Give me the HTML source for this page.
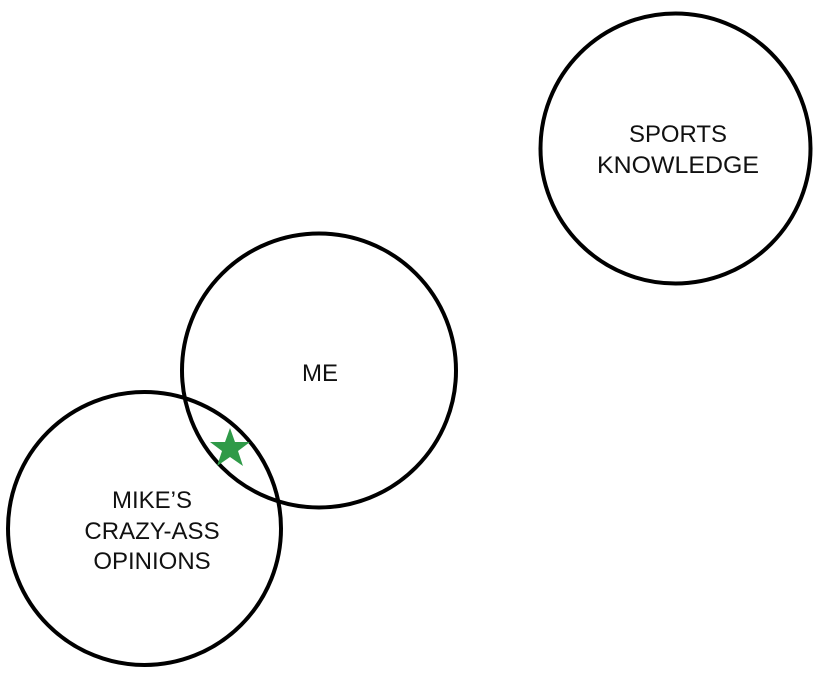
<!DOCTYPE html>
<html><head><style>html,body{margin:0;padding:0;background:#fff;}</style></head>
<body>
<svg width="822" height="674" xmlns="http://www.w3.org/2000/svg">
<g fill="none" stroke="#000" stroke-width="4">
<circle cx="675.5" cy="148.5" r="135"/>
<circle cx="319" cy="370.5" r="137"/>
<circle cx="144.5" cy="528.5" r="136.5"/>
</g>
<polygon fill="#2f9a48" points="230,428 235,442 250,442 238,451 243,466 230,457 217,466 222,451 210,442 225,442"/>
<g font-family="Liberation Sans, sans-serif" font-size="24" fill="#111" text-anchor="middle">
<text x="678" y="142" textLength="98" lengthAdjust="spacingAndGlyphs">SPORTS</text>
<text x="678" y="173" textLength="162" lengthAdjust="spacingAndGlyphs">KNOWLEDGE</text>
<text x="320" y="381">ME</text>
<text x="152" y="508">MIKE’S</text>
<text x="152" y="539">CRAZY-ASS</text>
<text x="152" y="569">OPINIONS</text>
</g>
</svg>
</body></html>
